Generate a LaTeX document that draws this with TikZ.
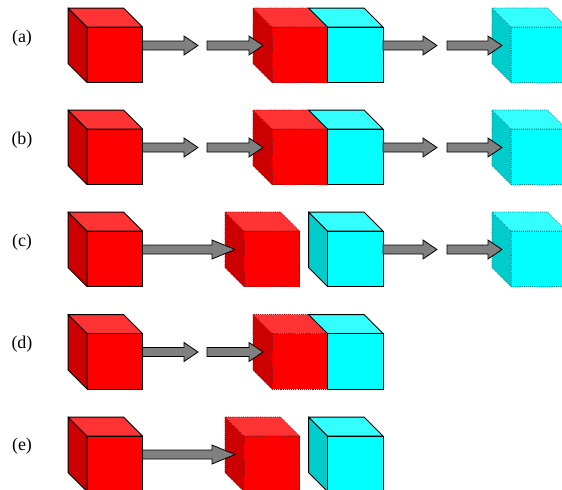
\documentclass[tikz,border=0pt]{standalone}
\usepackage{fontspec}
\setmainfont{Liberation Serif}
\usetikzlibrary{calc}
\definecolor{rfront}{HTML}{FF0000}
\definecolor{rtop}{HTML}{FF3333}
\definecolor{rside}{HTML}{CC0000}
\definecolor{cfront}{HTML}{00FFFF}
\definecolor{ctop}{HTML}{33FFFF}
\definecolor{cside}{HTML}{00CCCC}
\definecolor{rghost}{HTML}{A00000}
\definecolor{cghost}{HTML}{008C8C}
\definecolor{arrowgray}{HTML}{808080}
\tikzset{
  solidedge/.style={draw=black, line width=0.75pt, line join=round},
  redghost/.style={draw=rghost, line width=0.5pt, dash pattern=on 0.8pt off 0.8pt},
  cyanghost/.style={draw=cghost, line width=0.5pt, dash pattern=on 0.8pt off 0.8pt},
  blockarr/.style={fill=arrowgray, draw=black, line width=0.6pt, line join=miter},
  lbl/.style={font=\fontsize{13.5}{16}\selectfont, inner sep=0pt}
}
\newcommand{\cubeside}[3]{\path[#3,fill=#2] (#1) -- ++(-19,-19) -- ++(0,55.5) -- ++(19,19) -- cycle;}
\newcommand{\cubetop}[3]{\path[#3,fill=#2] (#1) -- ++(-19,-19) -- ++(55.5,0) -- ++(19,19) -- cycle;}
\newcommand{\cubefront}[3]{\path[#3,fill=#2] (#1) rectangle ++(55.5,55.5);}
\newcommand{\redcube}[2]{\cubeside{#1}{rside}{#2}\cubetop{#1}{rtop}{#2}\cubefront{#1}{rfront}{#2}}
\newcommand{\cyancube}[2]{\cubeside{#1}{cside}{#2}\cubetop{#1}{ctop}{#2}\cubefront{#1}{cfront}{#2}}
\newcommand{\cyannoside}[2]{\cubetop{#1}{ctop}{#2}\cubefront{#1}{cfront}{#2}}
\newcommand{\cubeanchors}[1]{%
  \coordinate (#1-out) at ($(#1)+(55.5,18.5)$);
  \coordinate (#1-in) at ($(#1)+(-9,18.5)$);}
% #1 start, #2 tip, #3 head length
\newcommand{\blockarrow}[3]{%
  \path[blockarr] ($(#1)+(0,-4.5)$) -- ($(#2 |- #1)+(-#3,-4.5)$) -- ($(#2 |- #1)+(-#3,-9.5)$)
    -- (#2 |- #1) -- ($(#2 |- #1)+(-#3,9.5)$) -- ($(#2 |- #1)+(-#3,4.5)$) -- ($(#1)+(0,4.5)$) -- cycle;}
\begin{document}
\begin{tikzpicture}[x=0.75pt,y=-0.75pt]
\useasboundingbox (0,0) rectangle (562,490);
\clip (0,0) rectangle (562,490);

% labels
\node[lbl] (la) at (22,38) {(a)};
\node[lbl] (lb) at (22,140) {(b)};
\node[lbl] (lc) at (22,242) {(c)};
\node[lbl] (ld) at (22,344.5) {(d)};
\node[lbl] (le) at (22,446.5) {(e)};

% ---- row (a)
\coordinate (aR) at (87,27);
\coordinate (aG) at (272,27);
\coordinate (aC) at (327.5,27);
\coordinate (aH) at (511,27);
\cubeanchors{aR}\cubeanchors{aG}\cubeanchors{aC}\cubeanchors{aH}
\coordinate (a1) at (198,45.5);
\coordinate (a2) at (207,45.5);
\coordinate (a3) at (437,45.5);
\coordinate (a4) at (447,45.5);
\redcube{aR}{solidedge}
\redcube{aG}{redghost}
\cyannoside{aC}{solidedge}
\cyancube{aH}{cyanghost}
\blockarrow{aR-out}{a1}{14}
\blockarrow{a2}{aG-in}{14}
\blockarrow{aC-out}{a3}{14}
\blockarrow{a4}{aH-in}{14}

% ---- row (b)
\coordinate (bR) at (87,129);
\coordinate (bG) at (272,129);
\coordinate (bC) at (327.5,129);
\coordinate (bH) at (511,129);
\cubeanchors{bR}\cubeanchors{bG}\cubeanchors{bC}\cubeanchors{bH}
\coordinate (b1) at (198,147.5);
\coordinate (b2) at (207,147.5);
\coordinate (b3) at (437,147.5);
\coordinate (b4) at (447,147.5);
\redcube{bR}{solidedge}
\redcube{bG}{redghost}
\cyannoside{bC}{solidedge}
\cyancube{bH}{cyanghost}
\blockarrow{bR-out}{b1}{14}
\blockarrow{b2}{bG-in}{14}
\blockarrow{bC-out}{b3}{14}
\blockarrow{b4}{bH-in}{14}

% ---- row (c)
\coordinate (cR) at (87,231);
\coordinate (cG) at (244,231);
\coordinate (cC) at (327.5,231);
\coordinate (cH) at (511,231);
\cubeanchors{cR}\cubeanchors{cG}\cubeanchors{cC}\cubeanchors{cH}
\coordinate (c3) at (437,249.5);
\coordinate (c4) at (447,249.5);
\redcube{cR}{solidedge}
\redcube{cG}{redghost}
\cyancube{cC}{solidedge}
\cyancube{cH}{cyanghost}
\blockarrow{cR-out}{cG-in}{23}
\blockarrow{cC-out}{c3}{14}
\blockarrow{c4}{cH-in}{14}

% ---- row (d)
\coordinate (dR) at (87,333.5);
\coordinate (dG) at (272,333.5);
\coordinate (dC) at (327.5,333.5);
\cubeanchors{dR}\cubeanchors{dG}\cubeanchors{dC}
\coordinate (d1) at (198,352);
\coordinate (d2) at (207,352);
\redcube{dR}{solidedge}
\redcube{dG}{redghost}
\cyannoside{dC}{solidedge}
\blockarrow{dR-out}{d1}{14}
\blockarrow{d2}{dG-in}{14}

% ---- row (e)
\coordinate (eR) at (87,436);
\coordinate (eG) at (244,436);
\coordinate (eC) at (327.5,436);
\cubeanchors{eR}\cubeanchors{eG}\cubeanchors{eC}
\redcube{eR}{solidedge}
\redcube{eG}{redghost}
\cyancube{eC}{solidedge}
\blockarrow{eR-out}{eG-in}{23}
\end{tikzpicture}
\end{document}
